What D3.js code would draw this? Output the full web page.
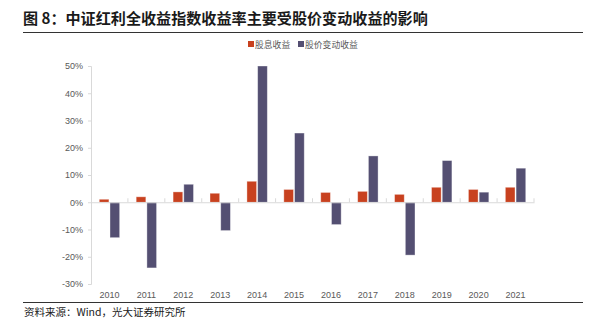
<!DOCTYPE html>
<html><head><meta charset="utf-8">
<script src="https://cdn.jsdelivr.net/npm/d3@7"></script>
<style>
html,body{margin:0;padding:0;background:#fff;}
svg{display:block;}
</style></head>
<body>
<svg id="c" width="589" height="328"></svg>
<script>
const titleText = "图 8：中证红利全收益指数收益率主要受股价变动收益的影响";
const sourceText = "资料来源：Wind，光大证券研究所";
const years = ["2010","2011","2012","2013","2014","2015","2016","2017","2018","2019","2020","2021"];
const seriesNames = ["股息收益","股价变动收益"];
const dividendReturn = [1.1, 2.0, 3.8, 3.3, 7.7, 4.7, 3.6, 4.0, 2.9, 5.5, 4.7, 5.5];
const priceReturn = [-13.0, -24.1, 6.6, -10.4, 50.0, 25.4, -8.2, 17.0, -19.4, 15.3, 3.7, 12.5];
const yTicks = [-30, -20, -10, 0, 10, 20, 30, 40, 50];
const colors = ["#C8411F", "#544F72"];

const svg = d3.select("#c");
const cjk = "'Noto Sans CJK SC', 'Noto Sans', sans-serif";
const latin = "'Liberation Sans', Arial, sans-serif";

// Title
svg.append("text").attr("x", 23).attr("y", 23.5)
  .attr("font-family", cjk).attr("font-weight", "bold").attr("font-size", 15.1)
  .attr("fill", "#1a1a1a").text(titleText);
svg.append("line").attr("x1", 23).attr("x2", 583).attr("y1", 32.5).attr("y2", 32.5)
  .attr("stroke", "#333").attr("stroke-width", 1);

// Legend
const legend = svg.append("g");
const legendItems = [{x: 248, name: seriesNames[0], c: colors[0]}, {x: 298, name: seriesNames[1], c: colors[1]}];
legendItems.forEach(d => {
  legend.append("rect").attr("x", d.x).attr("y", 41).attr("width", 6).attr("height", 6).attr("fill", d.c);
  legend.append("text").attr("x", d.x + 7).attr("y", 48).attr("font-family", cjk)
    .attr("font-size", 8.8).attr("fill", "#595959").text(d.name);
});

// Scales
const x = d3.scaleBand().domain(years).range([91, 534]).padding(0);
const x1 = d3.scaleBand().domain(seriesNames).range([-10.2, 10.2]).paddingInner(0.1);
const y = d3.scaleLinear().domain([-30, 50]).range([284, 66]);

// Y axis
const yAxis = d3.axisLeft(y).tickValues(yTicks).tickFormat(d => d + "%").tickSize(3).tickPadding(5);
const gy = svg.append("g").attr("transform", "translate(91,0)").call(yAxis);
gy.select(".domain").attr("stroke", "#d9d9d9");
gy.selectAll(".tick line").attr("stroke", "#d9d9d9");
gy.selectAll(".tick text").attr("font-family", latin).attr("font-size", 9).attr("fill", "#595959");

// Bars
const data = years.map((yr, i) => ({year: yr, vals: [dividendReturn[i], priceReturn[i]]}));
const groups = svg.append("g").selectAll("g").data(data).join("g")
  .attr("transform", d => `translate(${x(d.year) + x.bandwidth() / 2},0)`);
groups.selectAll("rect").data(d => d.vals.map((v, k) => ({v, k}))).join("rect")
  .attr("x", d => x1(seriesNames[d.k]))
  .attr("width", x1.bandwidth())
  .attr("y", d => y(Math.max(0, d.v)))
  .attr("height", d => Math.abs(y(d.v) - y(0)))
  .attr("fill", d => colors[d.k])
  .attr("stroke", "#ffffff").attr("stroke-opacity", 0.45).attr("stroke-width", 0.8);

// X axis at zero
const xAxis = d3.axisBottom(x).tickSize(0).tickFormat(() => "");
const gx = svg.append("g").attr("transform", `translate(0,${y(0)})`).call(xAxis);
gx.select(".domain").attr("stroke", "#d9d9d9").attr("stroke-width", 1.2);
const bounds = years.map(yr => x(yr)).concat([x.range()[1]]).slice(1);
gx.selectAll(".btick").data(bounds).join("line").attr("class", "btick")
  .attr("x1", d => d).attr("x2", d => d).attr("y1", -4).attr("y2", 0)
  .attr("stroke", "#d9d9d9");

// X labels at bottom
svg.append("g").selectAll("text").data(years).join("text")
  .attr("x", d => x(d) + x.bandwidth() / 2).attr("y", 298)
  .attr("text-anchor", "middle").attr("font-family", latin).attr("font-size", 9)
  .attr("fill", "#595959").text(d => d);

// Bottom line and source
svg.append("line").attr("x1", 23).attr("x2", 583).attr("y1", 302.5).attr("y2", 302.5)
  .attr("stroke", "#333").attr("stroke-width", 1);
svg.append("text").attr("x", 24).attr("y", 316).attr("font-family", cjk)
  .attr("font-size", 10.5).attr("fill", "#1a1a1a").text(sourceText);
</script>
</body></html>
